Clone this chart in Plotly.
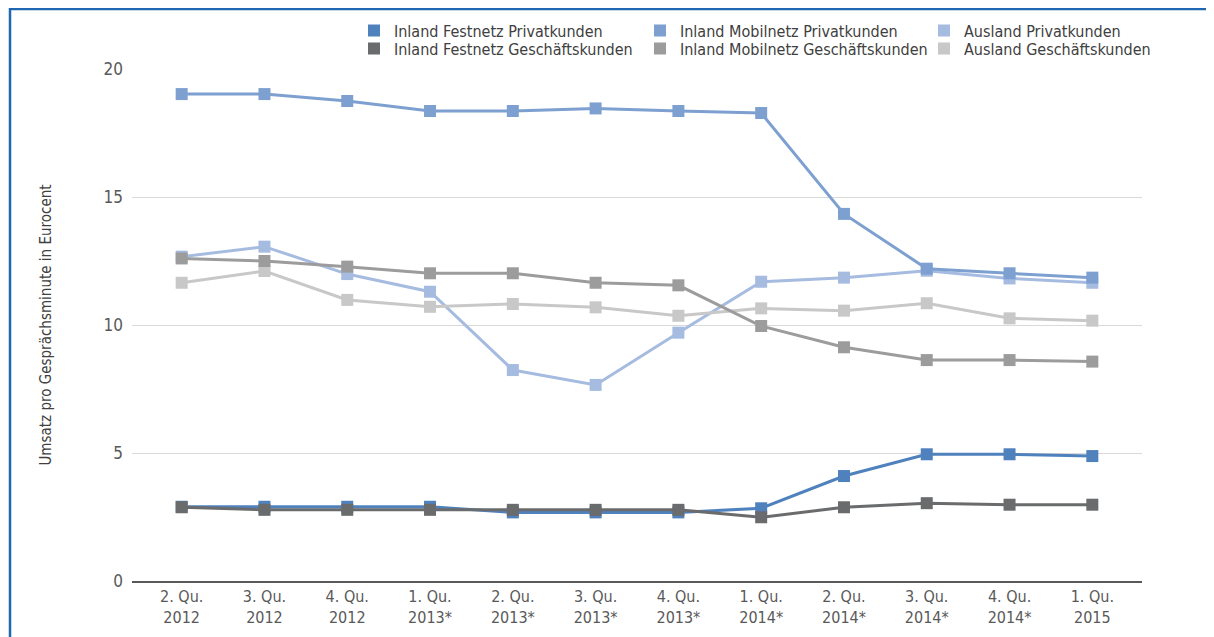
import plotly.graph_objects as go

quarters = ["2. Qu.<br>2012", "3. Qu.<br>2012", "4. Qu.<br>2012", "1. Qu.<br>2013*",
            "2. Qu.<br>2013*", "3. Qu.<br>2013*", "4. Qu.<br>2013*", "1. Qu.<br>2014*",
            "2. Qu.<br>2014*", "3. Qu.<br>2014*", "4. Qu.<br>2014*", "1. Qu.<br>2015"]

festnetz_privat = [2.90, 2.90, 2.90, 2.90, 2.68, 2.68, 2.68, 2.84, 4.10, 4.95, 4.95, 4.88]
festnetz_geschaeft = [2.88, 2.78, 2.78, 2.78, 2.78, 2.78, 2.78, 2.49, 2.88, 3.04, 2.98, 2.98]
mobil_privat = [19.02, 19.02, 18.75, 18.36, 18.36, 18.46, 18.36, 18.28, 14.34, 12.20, 12.02, 11.85]
mobil_geschaeft = [12.60, 12.50, 12.28, 12.02, 12.02, 11.65, 11.55, 9.96, 9.13, 8.63, 8.63, 8.57]
ausland_privat = [12.67, 13.06, 11.99, 11.30, 8.24, 7.66, 9.70, 11.69, 11.85, 12.12, 11.82, 11.65]
ausland_geschaeft = [11.65, 12.11, 10.98, 10.71, 10.82, 10.69, 10.36, 10.65, 10.56, 10.85, 10.26, 10.17]

y_ticks = [0, 5, 10, 15, 20]

names = ["Inland Festnetz Privatkunden", "Inland Mobilnetz Privatkunden", "Ausland Privatkunden",
         "Inland Festnetz Geschäftskunden", "Inland Mobilnetz Geschäftskunden", "Ausland Geschäftskunden"]
colors = {
    "Inland Festnetz Privatkunden": "#4f81bd",
    "Inland Mobilnetz Privatkunden": "#7da0d0",
    "Ausland Privatkunden": "#a6bbe0",
    "Inland Festnetz Geschäftskunden": "#6a6b6d",
    "Inland Mobilnetz Geschäftskunden": "#9c9c9d",
    "Ausland Geschäftskunden": "#c8c8c9",
}
series = {
    "Ausland Privatkunden": ausland_privat,
    "Ausland Geschäftskunden": ausland_geschaeft,
    "Inland Mobilnetz Privatkunden": mobil_privat,
    "Inland Mobilnetz Geschäftskunden": mobil_geschaeft,
    "Inland Festnetz Privatkunden": festnetz_privat,
    "Inland Festnetz Geschäftskunden": festnetz_geschaeft,
}

FONT = "Liberation Sans Narrow, DejaVu Sans Condensed, Arial Narrow, sans-serif"

W, H = 1206, 629
L, R, T, B = 124, 72, 61, 56
pw, ph = W - L - R, H - T - B


def px(xp):
    return (xp - L) / pw


def py(yp):
    return (H - B - yp) / ph


fig = go.Figure()
for name, vals in series.items():
    fig.add_trace(go.Scatter(
        x=quarters, y=vals, mode="lines+markers", name=name, showlegend=False,
        line=dict(color=colors[name], width=3),
        marker=dict(symbol="square", size=12, color=colors[name]),
    ))

# legend entries (square swatches), one small legend per entry for exact placement
legend_x = [346, 632, 916]
legend_y = [22.5, 40.5]
legend_layout = {}
for i, name in enumerate(names):
    lid = "legend" if i == 0 else f"legend{i + 1}"
    fig.add_trace(go.Scatter(
        x=[None], y=[None], mode="markers", name=name, legend=lid, showlegend=True,
        marker=dict(symbol="square", size=12, color=colors[name]),
    ))
    legend_layout[lid] = dict(
        x=px(legend_x[i % 3]), y=py(legend_y[i // 3]), xanchor="left", yanchor="middle",
        font=dict(family=FONT, size=16, color="#404040"),
        bgcolor="rgba(0,0,0,0)", borderwidth=0,
    )

fig.update_layout(
    width=W, height=H,
    margin=dict(l=L, r=R, t=T, b=B, autoexpand=False),
    paper_bgcolor="white", plot_bgcolor="white",
    font=dict(family=FONT, size=15, color="#404040"),
    xaxis=dict(showgrid=False, showline=True, linecolor="#595959", linewidth=2,
               ticks="", tickfont=dict(family=FONT, size=16, color="#595959"),
               range=[-0.6, 11.6], fixedrange=True, automargin=False),
    yaxis=dict(range=[0, 20], tickvals=y_ticks, showgrid=True,
               gridcolor="#d9d9d9", gridwidth=1, zeroline=False, showline=False,
               ticks="", ticklabelstandoff=8, automargin=False,
               tickfont=dict(family=FONT, size=17, color="#595959"),
               title=dict(text="Umsatz pro Gesprächsminute in Eurocent", standoff=48,
                          font=dict(family=FONT, size=15, color="#404040"))),
    shapes=[
        dict(type="line", xref="paper", yref="paper", x0=px(1), x1=px(W), y0=py(1), y1=py(1),
             line=dict(color="#1f67b1", width=2.5)),
        dict(type="line", xref="paper", yref="paper", x0=px(2), x1=px(2), y0=py(0), y1=py(H),
             line=dict(color="#1f67b1", width=2.5)),
    ],
    **legend_layout,
)

fig.write_html("out.html")
